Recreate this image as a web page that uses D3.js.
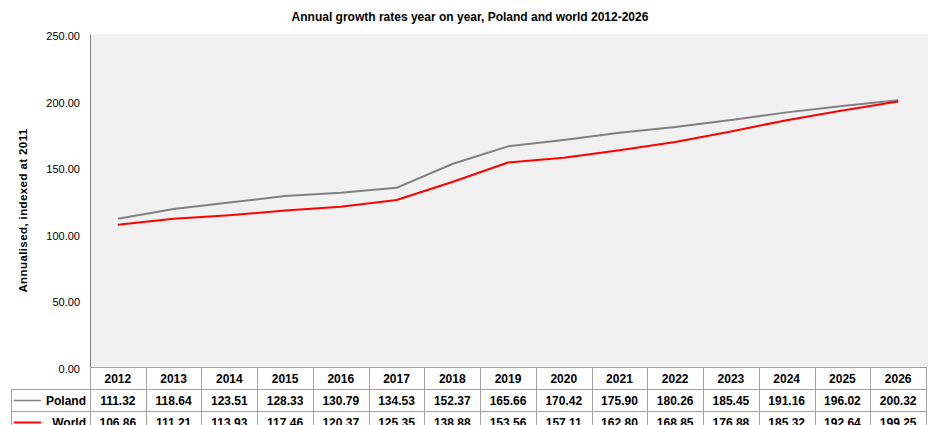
<!DOCTYPE html>
<html>
<head>
<meta charset="utf-8">
<script src="https://cdn.jsdelivr.net/npm/d3@7"></script>
<style>
  html, body { margin: 0; padding: 0; background: #fff; }
  svg { display: block; font-family: Arial, "Liberation Sans", sans-serif; }
</style>
</head>
<body>
<svg width="928" height="425"></svg>
<script>
const years = ['2012', '2013', '2014', '2015', '2016', '2017', '2018', '2019', '2020', '2021', '2022', '2023', '2024', '2025', '2026']
const poland = [111.32, 118.64, 123.51, 128.33, 130.79, 134.53, 152.37, 165.66, 170.42, 175.90, 180.26, 185.45, 191.16, 196.02, 200.32]
const world = [106.86, 111.21, 113.93, 117.46, 120.37, 125.35, 138.88, 153.56, 157.11, 162.80, 168.85, 176.88, 185.32, 192.64, 199.25]
const yTicks = [0, 50, 100, 150, 200, 250]

const series = [
  { name: 'Poland', values: poland, color: '#808080' },
  { name: 'World', values: world, color: '#ff0000' },
]

const svg = d3.select('svg')
const plotLeft = 90
const plotRight = 926
const plotTop = 34
const plotBottom = 367
const rowH = 22
const legendLeft = 11

// Chart title
svg.append('text')
  .attr('x', 470)
  .attr('y', 21)
  .attr('text-anchor', 'middle')
  .attr('font-size', 12)
  .attr('font-weight', 'bold')
  .text('Annual growth rates year on year, Poland and world 2012-2026')

const x = d3.scaleBand().domain(years).range([plotLeft, plotRight])
const y = d3.scaleLinear().domain([0, 250]).range([plotBottom, plotTop])

// Plot area
svg.append('rect')
  .attr('x', plotLeft)
  .attr('y', plotTop)
  .attr('width', 928 - plotLeft)
  .attr('height', plotBottom - plotTop)
  .attr('fill', '#f1f1f1')

const yAxis = svg.append('g')
  .attr('transform', `translate(${plotLeft},0)`)
  .call(d3.axisLeft(y).tickValues(yTicks).tickFormat(d3.format('.2f')).tickSize(0).tickPadding(10))
yAxis.select('.domain').attr('stroke', '#808080').attr('stroke-width', 1)
yAxis.selectAll('text')
  .attr('font-size', 11)
  .attr('font-family', 'Arial, "Liberation Sans", sans-serif')
  .attr('fill', '#000')
  .attr('dy', '0.5em')

svg.append('text')
  .attr('transform', `translate(27,${(plotTop + plotBottom) / 2 + 10}) rotate(-90)`)
  .attr('text-anchor', 'middle')
  .attr('font-size', 11.5)
  .attr('font-weight', 'bold')
  .attr('letter-spacing', 0.4)
  .text('Annualised, indexed at 2011')

// Lines
const line = d3.line()
  .x((d, i) => x(years[i]) + x.bandwidth() / 2)
  .y(d => y(d))

series.forEach(s => {
  svg.append('path')
    .datum(s.values)
    .attr('fill', 'none')
    .attr('stroke', s.color)
    .attr('stroke-width', 2)
    .attr('stroke-linejoin', 'round')
    .attr('d', line)
})

// Data table
const grid = svg.append('g').attr('stroke', '#a0a0a0').attr('stroke-width', 1).attr('fill', 'none')
const rowsBottom = plotBottom + rowH * 3

// horizontal lines
grid.append('line').attr('x1', plotLeft).attr('x2', plotRight).attr('y1', plotBottom + 0.5).attr('y2', plotBottom + 0.5)
for (let r = 1; r <= 3; r++) {
  grid.append('line')
    .attr('x1', legendLeft).attr('x2', plotRight)
    .attr('y1', plotBottom + rowH * r + 0.5).attr('y2', plotBottom + rowH * r + 0.5)
}
// vertical lines
years.forEach(yr => {
  const xx = Math.round(x(yr)) + 0.5
  grid.append('line').attr('x1', xx).attr('x2', xx).attr('y1', plotBottom).attr('y2', rowsBottom)
})
grid.append('line').attr('x1', plotRight + 0.5).attr('x2', plotRight + 0.5).attr('y1', plotBottom).attr('y2', rowsBottom)
grid.append('line').attr('x1', legendLeft + 0.5).attr('x2', legendLeft + 0.5).attr('y1', plotBottom + rowH).attr('y2', rowsBottom)

const cellText = svg.append('g').attr('font-size', 12).attr('font-weight', 'bold').attr('text-anchor', 'middle')
cellText.selectAll('.hdr')
  .data(years)
  .join('text')
  .attr('x', d => x(d) + x.bandwidth() / 2)
  .attr('y', plotBottom + rowH / 2 + 4.5)
  .text(d => d)

series.forEach((s, r) => {
  const rowY = plotBottom + rowH * (r + 1)
  cellText.selectAll(`.row${r}`)
    .data(s.values)
    .join('text')
    .attr('x', (d, i) => x(years[i]) + x.bandwidth() / 2)
    .attr('y', rowY + rowH / 2 + 4.5)
    .text(d => d.toFixed(2))

  svg.append('line')
    .attr('x1', 14).attr('x2', 41)
    .attr('y1', rowY + rowH / 2 + 0.5).attr('y2', rowY + rowH / 2 + 0.5)
    .attr('stroke', s.color)
    .attr('stroke-width', s.name === 'World' ? 2 : 1.5)
  svg.append('text')
    .attr('x', 86)
    .attr('y', rowY + rowH / 2 + 4.5)
    .attr('text-anchor', 'end')
    .attr('font-size', 12)
    .attr('font-weight', 'bold')
    .text(s.name)
})
</script>
</body>
</html>
